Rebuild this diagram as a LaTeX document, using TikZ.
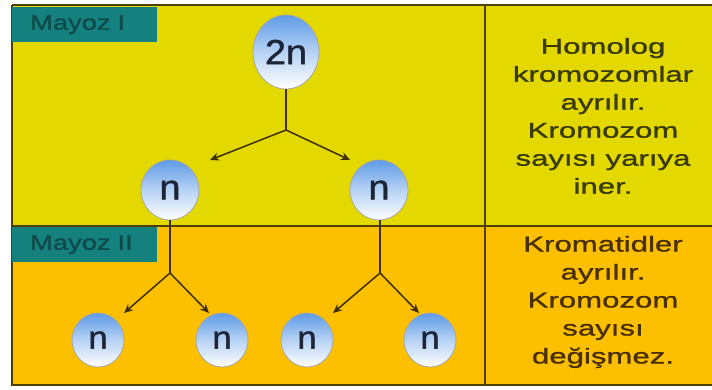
\documentclass[tikz,border=0pt]{standalone}
\usepackage{fontspec}
\setmainfont{Liberation Sans}
\newfontfamily\widefont[FakeStretch=1.45,FakeBold=1.2]{Liberation Sans}
\newfontfamily\tagfont[FakeStretch=1.3,FakeBold=1.4]{Liberation Sans}
\newfontfamily\cellfont[FakeStretch=1.08,FakeBold=1.2]{Liberation Sans}
\usetikzlibrary{arrows.meta,shapes.geometric}
\definecolor{mayozOne}{HTML}{E3D900}
\definecolor{mayozTwo}{HTML}{FDC000}
\definecolor{tealbox}{HTML}{15817E}
\definecolor{tealtext}{HTML}{0E4A4A}
\definecolor{frameline}{HTML}{4F4000}
\definecolor{arrowcol}{HTML}{3E3000}
\definecolor{cellblue}{HTML}{5E9BE6}
\definecolor{celltext}{HTML}{1C2438}
\definecolor{notetext}{HTML}{3A3A05}
\definecolor{notetextb}{HTML}{4A3000}
\tikzset{
  cell/.style={ellipse, draw=gray!70, line width=0.8pt, top color=cellblue, bottom color=white,
    middle color=cellblue!45, inner sep=0pt, text=celltext},
  bigcell/.style={cell, minimum width=66pt, minimum height=74pt, font=\cellfont\fontsize{35}{35}\selectfont},
  smallcell/.style={cell, minimum width=58pt, minimum height=60pt, font=\cellfont\fontsize{35}{35}\selectfont},
  tinycell/.style={cell, minimum width=52pt, minimum height=54pt, font=\cellfont\fontsize{32}{32}\selectfont},
  split/.style={draw=arrowcol, line width=1.5pt, -{Stealth[length=9pt,width=8pt]}},
  stem/.style={draw=arrowcol, line width=1.5pt},
  tag/.style={fill=tealbox, text=tealtext, anchor=north west, minimum width=145pt, minimum height=35pt,
    inner sep=0pt, text width=145pt, align=left, font=\tagfont\fontsize{21}{21}\selectfont},
  note/.style={align=center, font=\widefont\fontsize{21.5}{28}\selectfont}
}
\begin{document}
\begin{tikzpicture}[x=1pt,y=-1pt]
\useasboundingbox (0,0) rectangle (712,389);
\fill[white] (0,0) rectangle (712,389);
% panels
\fill[mayozOne] (12,5) rectangle (712,226);
\fill[mayozTwo] (12,226) rectangle (712,385);
\draw[frameline, line width=1.5pt] (12,5) -- (712,5);
\draw[frameline, line width=1.5pt] (12,5) -- (12,385) -- (712,385);
\draw[frameline, line width=1.5pt] (12,226) -- (712,226);
\draw[frameline, line width=1.5pt] (485,5) -- (485,385);
% stage labels
\node[tag] (tagA) at (12,7) {\hspace*{18pt}Mayoz I};
\node[tag] (tagB) at (12,227) {\hspace*{18pt}Mayoz II};
% cells
\node[bigcell] (root) at (286,52) {2n};
\node[smallcell] (l) at (170,190) {n};
\node[smallcell] (r) at (379,190) {n};
\node[tinycell] (ll) at (98,340) {n};
\node[tinycell] (lr) at (222,340) {n};
\node[tinycell] (rl) at (307,340) {n};
\node[tinycell] (rr) at (430,340) {n};
% branch points and arrow tips
\coordinate (j0) at (286,130);
\coordinate (t0l) at (210,160);
\coordinate (t0r) at (350,160);
\coordinate (j1) at (170,273);
\coordinate (t1l) at (124,313);
\coordinate (t1r) at (209,313);
\coordinate (j2) at (380,273);
\coordinate (t2l) at (333,313);
\coordinate (t2r) at (419,313);
% first division
\draw[stem] (root.south) -- (j0);
\draw[split] (j0) -- (t0l);
\draw[split] (j0) -- (t0r);
% second division
\draw[stem] (l.south) -- (j1);
\draw[split] (j1) -- (t1l);
\draw[split] (j1) -- (t1r);
\draw[stem] (r.south -| j2) -- (j2);
\draw[split] (j2) -- (t2l);
\draw[split] (j2) -- (t2r);
% descriptions
\node[note, text=notetext] (noteA) at (603,116) {Homolog\\kromozomlar\\ayrılır.\\Kromozom\\sayısı yarıya\\iner.};
\node[note, text=notetextb] (noteB) at (603,302) {Kromatidler\\ayrılır.\\Kromozom\\sayısı\\değişmez.};
\end{tikzpicture}
\end{document}
